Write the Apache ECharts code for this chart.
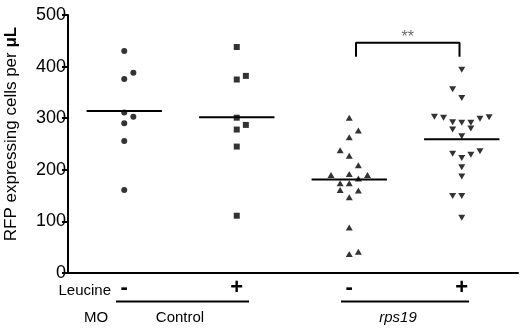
<!DOCTYPE html>
<html>
<head>
<meta charset="utf-8">
<script src="https://cdn.jsdelivr.net/npm/echarts@6/dist/echarts.min.js"></script>
<style>
  html, body { margin: 0; padding: 0; background: #fff; }
  #chart { width: 520px; height: 328px; }
</style>
</head>
<body>
<div id="chart"></div>
<script>
// groups along x (1..4) and their Leucine sign
const groups = ['Control', 'Control', 'rps19', 'rps19']
const leucine = ['-', '+', '-', '+']
const yTicks = [0, 100, 200, 300, 400, 500]

// each point: [column offset in the swarm, value]
const controlMinus = [[0, 430], [0, 376], [1, 388], [0, 311], [1, 303], [0, 290], [0, 256], [0, 161]]
const controlPlus = [[0, 438], [0, 375], [1, 382], [0, 301], [1, 287], [0, 278], [0, 245], [0, 111]]
const rpsMinus = [
  [0, 301], [1, 276], [0, 263], [-1, 238], [0, 227], [1, 209], [-2, 190], [0, 192], [2, 190],
  [1, 183], [-1, 174], [0, 174], [-1, 161], [1, 160], [0, 147], [0, 88], [0, 37], [1, 41]
]
const rpsPlus = [
  [0, 394], [-1, 356], [0, 339], [-3, 303], [-2, 301], [-1, 292], [0, 291], [1, 291], [2, 299],
  [3, 302], [-1, 278], [1, 280], [0, 265], [-1, 231], [0, 223], [1, 229], [2, 236], [0, 205],
  [0, 187], [-1, 149], [0, 149], [0, 107]
]
// mean line per group
const means = [314, 302, 181, 259]
// significance bracket between groups 3 and 4
const bracket = { from: 3, to: 4, top: 446, foot: 419, text: '**' }

const FONT = 'Liberation Sans, Arial, sans-serif'
const step = 0.081   // swarm column width in x units
const halfLine = 0.335

const sets = [controlMinus, controlPlus, rpsMinus, rpsPlus]
const shapes = [
  { symbol: 'circle', size: 6, rotate: 0 },
  { symbol: 'rect', size: 6, rotate: 0 },
  { symbol: 'triangle', size: [7, 6], rotate: 0 },
  { symbol: 'triangle', size: [7, 6], rotate: 180 }
]

const series = []
sets.forEach((pts, i) => {
  series.push({
    type: 'scatter',
    xAxisIndex: 1,
    symbol: shapes[i].symbol,
    symbolSize: shapes[i].size,
    symbolRotate: shapes[i].rotate,
    itemStyle: { color: '#000' },
    silent: true,
    data: pts.map(p => [i + 1 + p[0] * step, p[1]])
  })
  series.push({
    type: 'line',
    xAxisIndex: 1,
    symbol: 'none',
    lineStyle: { color: '#000', width: 2 },
    silent: true,
    data: [[i + 1 - halfLine, means[i]], [i + 1 + halfLine, means[i]]]
  })
})

// bracket
series.push({
  type: 'line',
  xAxisIndex: 1,
  symbol: 'none',
  lineStyle: { color: '#000', width: 2 },
  silent: true,
  data: [
    [bracket.from + 0.06, bracket.foot], [bracket.from + 0.06, bracket.top],
    [bracket.to - 0.02, bracket.top], [bracket.to - 0.02, bracket.foot]
  ]
})
series.push({
  type: 'scatter',
  xAxisIndex: 1,
  symbolSize: 0,
  silent: true,
  label: {
    show: true, position: 'top', distance: -3, formatter: bracket.text,
    color: '#444', fontSize: 16, fontFamily: FONT
  },
  data: [[(bracket.from + bracket.to) / 2 + 0.02, bracket.top]]
})

const chart = echarts.init(document.getElementById('chart'))
chart.setOption({
  animation: false,
  grid: { left: 68, right: 2, top: 15, bottom: 55 },
  xAxis: [
    {
      type: 'category',
      data: groups.map((g, i) => g + leucine[i]),
      axisLine: { lineStyle: { color: '#000', width: 2 } },
      axisTick: { alignWithLabel: true, length: 5, lineStyle: { color: '#000', width: 2 } },
      axisLabel: {
        formatter: (v, i) => leucine[i],
        color: '#000', fontSize: 22, fontWeight: 'bold', fontFamily: FONT, margin: 4
      },
      splitLine: { show: false }
    },
    { type: 'value', min: 0.5, max: 4.5, show: false }
  ],
  yAxis: {
    type: 'value',
    min: yTicks[0],
    max: yTicks[yTicks.length - 1],
    interval: 100,
    axisLine: { show: true, lineStyle: { color: '#000', width: 2 } },
    axisTick: { show: true, length: 6, lineStyle: { color: '#000', width: 2 } },
    axisLabel: { color: '#000', fontSize: 18, fontFamily: FONT, margin: 2 },
    splitLine: { show: false }
  },
  graphic: [
    {
      type: 'text', x: 11, y: 134, rotation: Math.PI / 2,
      style: {
        text: 'RFP expressing cells per {b|μL}',
        rich: { b: { fontWeight: 'bold', fontSize: 17, fontFamily: FONT, fill: '#000' } },
        font: '17px ' + FONT, fill: '#000', align: 'center', verticalAlign: 'middle'
      }
    },
    { type: 'text', x: 111, y: 291, style: { text: 'Leucine', font: '15px ' + FONT, fill: '#000', align: 'right', verticalAlign: 'middle' } },
    { type: 'line', shape: { x1: 116, y1: 301.5, x2: 249, y2: 301.5 }, style: { stroke: '#000', lineWidth: 2 } },
    { type: 'line', shape: { x1: 341, y1: 301.5, x2: 469, y2: 301.5 }, style: { stroke: '#000', lineWidth: 2 } },
    { type: 'text', x: 96, y: 318, style: { text: 'MO', font: '15px ' + FONT, fill: '#000', align: 'center', verticalAlign: 'middle' } },
    { type: 'text', x: 180, y: 318, style: { text: groups[0], font: '15px ' + FONT, fill: '#000', align: 'center', verticalAlign: 'middle' } },
    { type: 'text', x: 398, y: 318, style: { text: groups[2], font: 'italic 15px ' + FONT, fill: '#000', align: 'center', verticalAlign: 'middle' } }
  ],
  series: series
})
</script>
</body>
</html>
